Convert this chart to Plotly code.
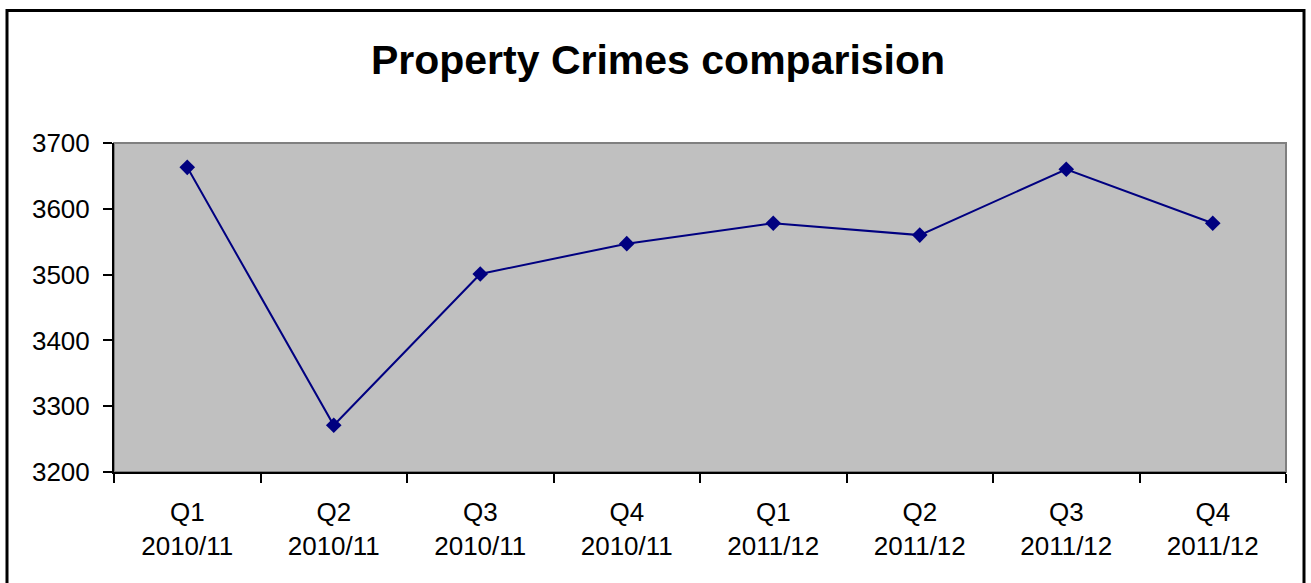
import plotly.graph_objects as go

quarters = ["Q1", "Q2", "Q3", "Q4", "Q1", "Q2", "Q3", "Q4"]
years = ["2010/11", "2010/11", "2010/11", "2010/11", "2011/12", "2011/12", "2011/12", "2011/12"]
crimes = [3663, 3271, 3501, 3547, 3578, 3560, 3660, 3578]
title_text = "Property Crimes comparision"

categories = [f"{q}<br>{y}" for q, y in zip(quarters, years)]

W, H = 1311, 583
L, R, T, B = 114, 25, 143, 111
pw, ph = W - L - R, H - T - B

font_family = "Arial, Liberation Sans, sans-serif"

fig = go.Figure()
fig.add_trace(go.Scatter(
    x=categories, y=crimes, mode="lines+markers",
    line=dict(color="#000080", width=2),
    marker=dict(symbol="diamond", size=12, color="#000080"),
    showlegend=False,
))

def px_x(p):
    return (p - L) / pw

def px_y(p):
    return (H - B - p) / ph

fig.update_layout(
    width=W, height=H,
    margin=dict(l=L, r=R, t=T, b=B),
    paper_bgcolor="white",
    plot_bgcolor="#C0C0C0",
    font=dict(family=font_family, size=26, color="black"),
    title=dict(text=f"<b>{title_text}</b>", x=658 / W, xref="container", xanchor="center",
               y=1 - 60 / H, yref="container", yanchor="middle",
               font=dict(family=font_family, size=41, color="black")),
    xaxis=dict(type="category", range=[-0.5, 7.5], tickson="boundaries",
               ticks="outside", ticklen=9, tickwidth=2, tickcolor="black",
               ticklabelstandoff=16,
               showline=True, linecolor="black", linewidth=2,
               showgrid=False, zeroline=False, tickfont=dict(size=26)),
    yaxis=dict(range=[3200, 3700], dtick=100, tick0=3200,
               ticks="outside", ticklen=9, tickwidth=2, tickcolor="black",
               ticklabelstandoff=8,
               showline=True, linecolor="black", linewidth=2,
               showgrid=False, zeroline=False, tickfont=dict(size=26)),
    shapes=[
        dict(type="rect", xref="paper", yref="paper", x0=0, x1=1, y0=0, y1=1,
             line=dict(color="#808080", width=2), layer="below"),
        dict(type="rect", xref="paper", yref="paper",
             x0=px_x(7), x1=px_x(1304), y0=px_y(600), y1=px_y(10.5),
             line=dict(color="black", width=3), fillcolor="rgba(0,0,0,0)", layer="above"),
    ],
)

fig.write_html("out.html", config={"displayModeBar": False},
               post_script="document.body.style.margin='0';")
